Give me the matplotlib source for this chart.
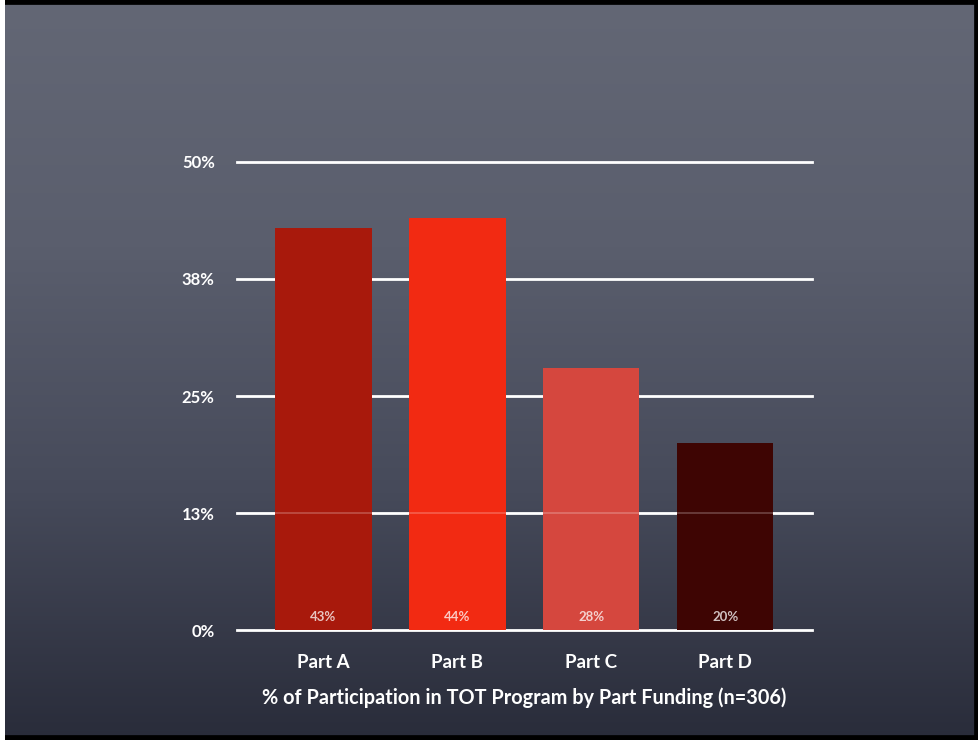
import numpy as np
import matplotlib.pyplot as plt
from matplotlib.patches import Rectangle
from matplotlib.colors import LinearSegmentedColormap

# chart values
parts = ['Part A', 'Part B', 'Part C', 'Part D']
share = [43, 44, 28, 20]
value_labels = ['43%', '44%', '28%', '20%']
tick_vals = [0, 12.5, 25, 37.5, 50]
tick_labels = ['0%', '13%', '25%', '38%', '50%']
bar_colors = ['#a8190c', '#f22a12', '#d5473e', '#3e0503']

plt.rcParams['font.family'] = ['Lato', 'DejaVu Sans']

fig = plt.figure(figsize=(9.79, 7.4), dpi=100)
fig.patch.set_facecolor('#2b2e3c')

# chalkboard-ish background gradient
bg = fig.add_axes([0, 0, 1, 1], zorder=-10)
grad = np.linspace(0, 1, 256).reshape(-1, 1)
cmap = LinearSegmentedColormap.from_list('board', ['#636775', '#5a5e6d', '#464a5a', '#292c3a'])
bg.imshow(grad, aspect='auto', cmap=cmap, extent=[0, 1, 0, 1])
bg.set_xlim(0, 1)
bg.set_ylim(0, 1)
bg.axis('off')

# frame around the slide
fig.patches.append(Rectangle((0.0, 0.0), 1, 1, transform=fig.transFigure,
                             fill=False, edgecolor='black', linewidth=7))
fig.patches.append(Rectangle((0.0, 0.0), 0.005, 1, transform=fig.transFigure,
                             facecolor='white', edgecolor='none'))

ax = fig.add_axes([0.242, 0.1486, 0.587, 0.6325])
ax.set_facecolor('none')
x = np.arange(len(parts))

for t in tick_vals:
    ax.axhline(t, color='white', linewidth=2, zorder=1, clip_on=False)

ax.bar(x, share, width=0.72, color=bar_colors, zorder=2)
ax.axhline(12.5, color='white', linewidth=1.2, alpha=0.25, zorder=3)

for xi, lab in zip(x, value_labels):
    ax.text(xi, 0.8, lab, ha='center', va='bottom', color='white',
            alpha=0.75, fontsize=9.5, fontweight='bold', zorder=4)

ax.set_xlim(-0.645, 3.645)
ax.set_ylim(0, 50)
ax.set_yticks(tick_vals)
ax.set_yticklabels(tick_labels)
ax.set_xticks(x)
ax.set_xticklabels(parts)
ax.tick_params(axis='y', length=0, pad=16, labelsize=12, labelcolor='white')
ax.tick_params(axis='x', length=0, pad=17, labelsize=13.5, labelcolor='white')
for lab in ax.get_xticklabels() + ax.get_yticklabels():
    lab.set_fontweight('bold')
for s in ax.spines.values():
    s.set_visible(False)

ax.set_xlabel('% of Participation in TOT Program by Part Funding (n=306)',
              color='white', fontsize=14.3, fontweight='bold', labelpad=12)

fig.savefig('out.png', dpi=100, facecolor=fig.get_facecolor())
